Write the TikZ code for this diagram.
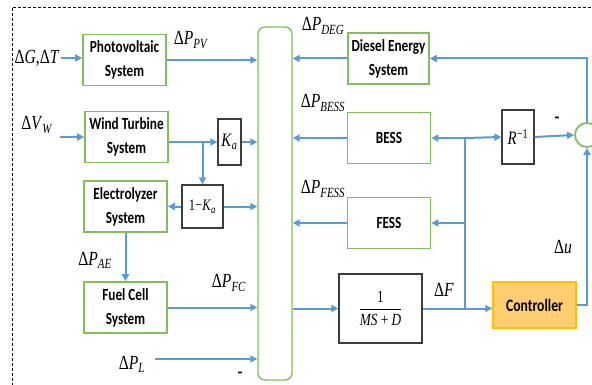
\documentclass[tikz,border=0pt]{standalone}
\usepackage{fontspec}
\setmainfont{Carlito}
\newfontfamily\lfcsans[FakeStretch=0.78]{Carlito}
\newfontfamily\lfcserif[FakeStretch=0.78]{Liberation Serif}
\usetikzlibrary{arrows.meta,calc}
\definecolor{LFCblue}{RGB}{91,155,213}
\definecolor{LFCgreen}{RGB}{132,190,90}
\definecolor{LFCgold}{RGB}{255,192,0}
\definecolor{LFCamber}{RGB}{255,206,112}
\definecolor{LFCgray}{RGB}{60,60,60}
\newcommand\lfcdP[1]{{\lfcserif Δ\textit{P}\textsubscript{\textit{#1}}}}
\tikzset{
  lfc box/.style={
    draw=LFCgreen,
    line width=1.6pt,
    minimum width=83pt,
    minimum height=51pt,
    align=center,
    inner sep=1pt,
    font=\fontsize{17}{24}\selectfont\lfcsans\bfseries
  },
  lfc gain/.style={
    draw=LFCgray,
    line width=1.3pt,
    inner sep=1pt,
    font=\fontsize{19}{21}\selectfont\lfcserif
  },
  lfc bus/.style={
    draw=LFCgreen,
    line width=1.4pt,
    rounded corners=7pt,
    minimum width=34pt,
    minimum height=353pt
  },
  lfc ctrl/.style={
    draw=LFCgold,
    line width=1.4pt,
    fill=LFCamber,
    minimum width=83pt,
    minimum height=46pt,
    font=\fontsize{17.5}{20}\selectfont\lfcsans\bfseries
  },
  lfc sum/.style={circle,draw=LFCgreen,line width=1.8pt,minimum size=24pt,inner sep=0pt},
  lfc label/.style={font=\fontsize{20}{22}\selectfont\lfcserif,inner sep=1pt},
  lfc sign/.style={font=\fontsize{16}{18}\selectfont\bfseries,inner sep=0pt},
  lfc line/.style={draw=LFCblue,line width=2pt},
  lfc arrow/.style={lfc line,-{Triangle[length=7pt,width=7pt]}}
}

\begin{document}
\begin{tikzpicture}[x=1pt,y=-1pt]
  \useasboundingbox (0,0) rectangle (592,385);
  \draw[line width=0.7pt,dash pattern=on 3pt off 2pt] (12,386) -- (12,7) -- (593,7);

  % sources on the left
  \node[lfc box] (pv) at (124.5,60) {Photovoltaic\\System};
  \node[lfc box] (wind) at (126.5,137) {Wind Turbine\\System};
  \node[lfc box] (elec) at (125.5,206.5) {Electrolyzer\\System};
  \node[lfc box] (fc) at (125.5,307.5) {Fuel Cell\\System};
  \node[lfc gain,minimum width=23pt,minimum height=46pt] (ka) at (229.5,142)
    {\textit{K}\textsubscript{\textit{a}}};
  \node[lfc gain,minimum width=41pt,minimum height=43pt,font=\fontsize{16}{18}\selectfont\lfcserif]
    (oneka) at (202.5,206.5) {1−\textit{K}\textsubscript{\textit{a}}};

  \node[lfc bus] (bus) at (275,203.5) {};

  % storage, diesel and frequency loop on the right
  \node[lfc box,minimum width=81pt] (deg) at (388.5,58.5) {Diesel Energy\\System};
  \node[lfc box] (bess) at (389,138) {BESS};
  \node[lfc box] (fess) at (389,223) {FESS};
  \node[lfc gain,minimum width=83pt,minimum height=69pt,font=\fontsize{17}{19}\selectfont\lfcserif]
    (plant) at (380.5,308.5) {$\displaystyle\frac{\mbox{1}}{\mbox{\textit{MS} + \textit{D}}}$};
  \node[lfc gain,minimum width=32pt,minimum height=54pt] (rinv) at (518,137)
    {\textit{R}\textsuperscript{−1}};
  \node[lfc ctrl] (ctrl) at (534.5,305) {Controller};
  \node[lfc sum] (sum) at (587,135) {};

  % signal labels
  \node[lfc label] (dgt) at (37,58) {Δ\textit{G},Δ\textit{T}};
  \node[lfc label] (dvw) at (37,125) {Δ\textit{V}\textsubscript{\textit{W}}};
  \node[lfc label] (ppv) at (191,40) {\lfcdP{PV}};
  \node[lfc label] (pae) at (95,260) {\lfcdP{AE}};
  \node[lfc label] (pfc) at (229,283) {\lfcdP{FC}};
  \node[lfc label] (pl) at (132,364) {\lfcdP{L}};
  \node[lfc label] (pdeg) at (323,26) {\lfcdP{DEG}};
  \node[lfc label] (pbess) at (323,103) {\lfcdP{BESS}};
  \node[lfc label] (pfess) at (323,189) {\lfcdP{FESS}};
  \node[lfc label] (df) at (444,290) {Δ\textit{F}};
  \node[lfc label] (du) at (563,247) {Δ\textit{u}};
  \node[lfc sign] (neg r) at (557,120) {-};
  \node[lfc sign] (neg l) at (240,375) {-};

  \coordinate (vw in) at (60,137);
  \coordinate (pl in) at (155,359);
  \coordinate (df split) at (465,308.5);

  \draw[lfc arrow] (dgt.east) -- (dgt.east -| pv.west);
  \draw[lfc arrow] (vw in) -- (vw in -| wind.west);
  \draw[lfc arrow] (pv.east) -- (pv.east -| bus.west);
  \draw[lfc arrow] (wind.east |- ka.west) -- (ka.west);
  \draw[lfc arrow] (oneka.north |- ka.west) -- (oneka.north);
  \draw[lfc arrow] (ka.east) -- (ka.east -| bus.west);
  \draw[lfc arrow] (oneka.west) -- (elec.east);
  \draw[lfc arrow] (oneka.east) -- (oneka.east -| bus.west);
  \draw[lfc arrow] (elec.south) -- (fc.north);
  \draw[lfc arrow] (fc.east) -- (fc.east -| bus.west);
  \draw[lfc arrow] (pl in) -- (pl in -| bus.west);

  \draw[lfc arrow] (deg.west) -- (deg.west -| bus.east);
  \draw[lfc arrow] (bess.west) -- (bess.west -| bus.east);
  \draw[lfc arrow] (fess.west) -- (fess.west -| bus.east);
  \draw[lfc arrow] (plant.west -| bus.east) -- (plant.west);
  \draw[lfc arrow] (plant.east) -- (plant.east -| ctrl.west);
  \draw[lfc line] (df split) -- (df split |- bess.east);
  \draw[lfc arrow] (df split |- bess.east) -- (bess.east);
  \draw[lfc arrow] (df split |- bess.east) -- (rinv.west);
  \draw[lfc arrow] (df split |- fess.east) -- (fess.east);
  \draw[lfc arrow] (rinv.east) -- (sum.west);
  \draw[lfc arrow] (ctrl.east) -| (sum.south);
  \draw[lfc arrow] (sum.north) |- (deg.east);
\end{tikzpicture}
\end{document}
